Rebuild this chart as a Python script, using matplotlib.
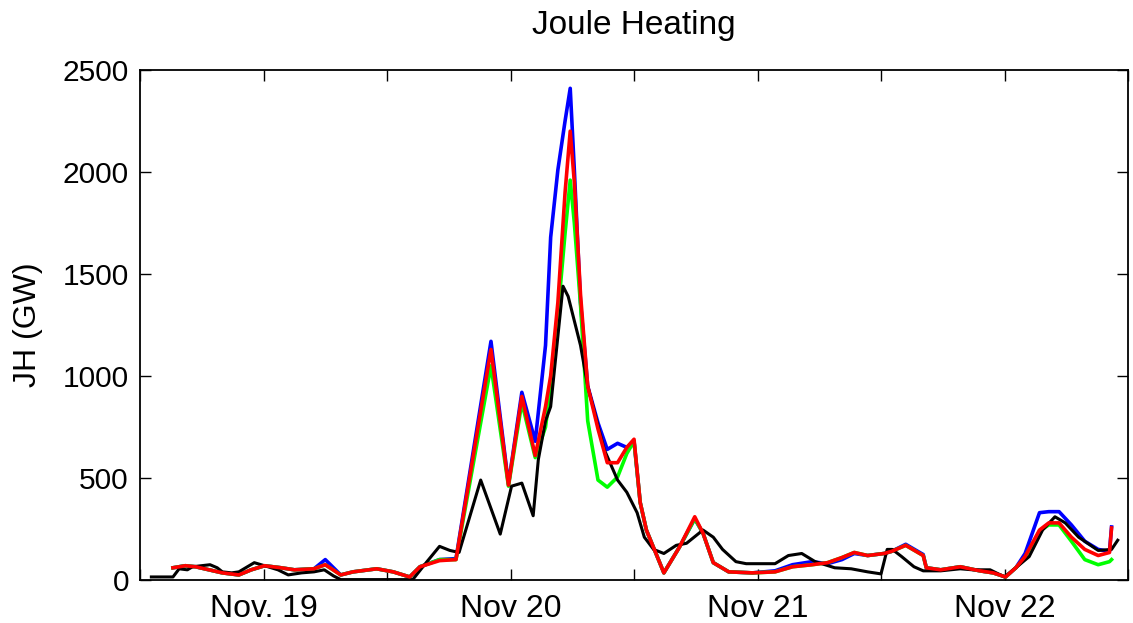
import matplotlib
matplotlib.use("Agg")
import matplotlib.pyplot as plt
import numpy as np

# Times in hours relative to Nov 19 00:00 UT
t_model = [-8.8, -7.6, -6.6, -5.3, -4.0, -2.4, -1.2, 0.1, 1.7, 3.0, 4.9, 6.0, 7.5, 8.7,
           11.0, 12.6, 14.2, 15.2, 17.1, 18.7, 22.1, 23.8, 25.1, 26.4, 27.4, 27.9, 28.6,
           29.3, 29.8, 30.2, 30.8, 31.5, 32.5, 33.4, 34.4, 35.3, 36.0, 36.6, 37.2, 38.9,
           40.4, 41.9, 42.7, 43.7, 45.2, 47.5, 49.7, 51.4, 53.3, 54.8, 56.2, 57.4, 58.7,
           60.3, 61.0, 62.4, 64.1, 64.4, 65.8, 67.7, 69.6, 70.9, 72.1, 73.1, 74.0, 75.4,
           76.3, 77.3, 78.5, 79.8, 81.1, 82.2, 82.4]

jh_blue = [60, 70, 65, 50, 35, 25, 50, 70, 60, 50, 55, 100, 25, 40,
           55, 40, 15, 65, 100, 105, 1170, 470, 920, 680, 1150, 1680, 2010,
           2250, 2410, 2010, 1360, 950, 770, 640, 670, 650, 680, 380, 245, 35,
           160, 300, 230, 85, 40, 35, 45, 75, 90, 80, 100, 130, 120,
           130, 140, 175, 125, 60, 50, 65, 45, 35, 15, 60, 130, 330,
           335, 335, 270, 190, 150, 140, 260]

jh_green = [60, 70, 65, 50, 35, 25, 50, 70, 60, 50, 55, 75, 25, 40,
            55, 40, 15, 65, 100, 100, 1050, 460, 870, 600, 750, 950, 1300,
            1700, 1960, 1750, 1350, 780, 490, 455, 505, 620, 680, 380, 245, 35,
            160, 300, 230, 85, 40, 35, 40, 65, 75, 85, 110, 135, 120,
            130, 140, 170, 120, 60, 50, 65, 45, 35, 15, 60, 110, 240,
            270, 270, 190, 100, 75, 90, 100]

jh_red = [60, 70, 65, 50, 35, 25, 50, 70, 60, 50, 55, 75, 25, 40,
          55, 40, 15, 65, 95, 100, 1130, 465, 900, 610, 850, 1000, 1360,
          1900, 2200, 1950, 1400, 950, 740, 575, 575, 650, 690, 380, 245, 35,
          160, 310, 230, 85, 40, 35, 40, 65, 75, 85, 110, 135, 120,
          130, 140, 170, 120, 60, 50, 65, 45, 35, 15, 60, 115, 245,
          280, 280, 210, 150, 120, 135, 255]

t_obs = [-10.9, -8.8, -8.2, -7.4, -6.9, -5.2, -4.5, -4.0, -3.1, -2.4, -0.9, 0.1, 1.4,
         2.4, 3.7, 4.9, 5.9, 6.8, 7.5, 14.5, 15.8, 17.1, 18.1, 19.0, 21.1, 23.0, 24.1,
         25.1, 26.2, 26.7, 27.4, 27.9, 29.1, 29.6, 30.8, 31.5, 33.1, 34.4, 35.3, 36.3,
         37.0, 37.9, 38.9, 40.1, 41.1, 42.7, 43.7, 44.6, 45.9, 46.9, 49.7, 51.0, 52.3,
         53.6, 55.5, 57.1, 58.7, 60.0, 60.6, 61.1, 62.0, 63.2, 64.1, 65.8, 67.7, 68.9,
         70.6, 72.0, 73.1, 74.4, 75.7, 76.9, 77.9, 79.2, 81.1, 82.4, 83.0]

jh_black = [15, 15, 55, 50, 65, 75, 60, 40, 35, 40, 85, 70, 50,
            25, 35, 40, 50, 20, 2, 2, 85, 165, 145, 135, 490, 225, 460,
            475, 315, 590, 780, 850, 1440, 1390, 1150, 950, 640, 490, 430, 330,
            210, 150, 130, 170, 180, 245, 210, 150, 90, 80, 80, 120, 130,
            90, 60, 55, 40, 30, 150, 150, 115, 65, 45, 45, 55, 50,
            50, 15, 60, 115, 245, 310, 280, 210, 145, 150, 195]

day_ticks = [19, 20, 21, 22]
day_labels = ["Nov. 19", "Nov 20", "Nov 21", "Nov 22"]
y_ticks = [0, 500, 1000, 1500, 2000, 2500]

plt.rcParams['font.family'] = ['Liberation Sans', 'DejaVu Sans']

fig = plt.figure(figsize=(11.33, 6.23), dpi=100)
ax = fig.add_axes([0.1236, 0.069, 0.872, 0.8187])

def to_day(t):
    return 19 + np.asarray(t) / 24.0

ax.plot(to_day(t_model), jh_blue, color=(0, 0, 1), lw=2.6)
ax.plot(to_day(t_model), jh_green, color=(0, 1, 0), lw=2.6)
ax.plot(to_day(t_obs), jh_black, color='black', lw=2.2)
ax.plot(to_day(t_model), jh_red, color=(1, 0, 0), lw=2.6)

ax.set_xlim(18.51, 22.465)
ax.set_ylim(0, 2500)
xt = np.arange(18.5, 22.51, 0.5)
ax.set_xticks(xt)
ax.set_xticklabels([day_labels[day_ticks.index(int(v))] if float(v).is_integer() else ""
                    for v in xt])
ax.set_yticks(y_ticks)
ax.tick_params(direction='in', length=8, width=1.0, top=True, right=True, pad=8)
ax.tick_params(axis='x', labelsize=23, pad=10)
ax.tick_params(axis='y', labelsize=21.5, pad=8)
for s in ax.spines.values():
    s.set_linewidth(1.3)

ax.set_title("Joule Heating", fontsize=24, pad=26)
ax.set_ylabel("JH (GW)", fontsize=23, labelpad=14)

fig.savefig("out.png", dpi=100)
